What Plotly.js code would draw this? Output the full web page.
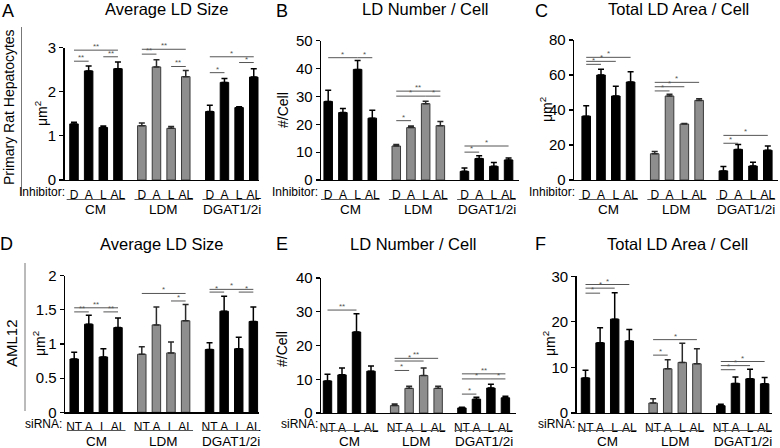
<!DOCTYPE html>
<html>
<head>
<meta charset="utf-8">
<script src="https://cdn.plot.ly/plotly-3.0.1.min.js"></script>
<style>html,body{margin:0;padding:0;background:#fff;}#chart{width:780px;height:448px;}</style>
</head>
<body>
<div id="chart"></div>
<script>
// ---------------- DATA ----------------
const groups = ['CM', 'LDM', 'DGAT1/2i'];
const inhibitorLabels = ['D', 'A', 'L', 'AL'];
const sirnaLabels = ['NT', 'A', 'L', 'AL'];
const panelTitles = ['Average LD Size', 'LD Number / Cell', 'Total LD Area / Cell',
                     'Average LD Size', 'LD Number / Cell', 'Total LD Area / Cell'];
const panelLetters = ['A', 'B', 'C', 'D', 'E', 'F'];
const rowLabels = ['Primary Rat Hepatocytes', 'AML12'];
const yTitles = ['μm<sup>2</sup>', '#/Cell', 'μm<sup>2</sup>', 'μm<sup>2</sup>', '#/Cell', 'μm<sup>2</sup>'];

// values: CM(4), LDM(4), DGAT1/2i(4)
const hepAvgSize     = [1.27, 2.47, 1.19, 2.52,  1.23, 2.56, 1.17, 2.34,  1.55, 2.21, 1.64, 2.33];
const hepAvgSizeErr  = [0.04, 0.11, 0.03, 0.15,  0.06, 0.16, 0.04, 0.14,  0.14, 0.09, 0.02, 0.19];
const hepNumber      = [28.2, 24.2, 39.7, 22.2,  12.2, 18.8, 27.4, 19.5,  3.1, 7.7, 4.9, 7.2];
const hepNumberErr   = [4.0, 1.5, 3.2, 2.8,      0.5, 0.6, 0.9, 1.5,      1.2, 1.0, 1.4, 0.7];
const hepArea        = [36.5, 60.0, 48.0, 56.0,  15.0, 48.0, 32.0, 45.5,  5.2, 17.5, 8.0, 17.0];
const hepAreaErr     = [6.0, 3.3, 5.6, 5.8,      1.3, 1.0, 0.3, 1.0,      2.5, 2.8, 2.2, 2.5];
const amlAvgSize     = [0.78, 1.29, 0.81, 1.24,  0.85, 1.28, 0.87, 1.34,  0.92, 1.48, 0.93, 1.33];
const amlAvgSizeErr  = [0.10, 0.13, 0.12, 0.14,  0.11, 0.26, 0.16, 0.24,  0.10, 0.22, 0.17, 0.21];
const amlNumber      = [9.5, 11.3, 24.0, 12.4,   2.2, 7.3, 11.1, 7.3,     1.5, 4.1, 7.4, 4.5];
const amlNumberErr   = [2.0, 2.0, 5.4, 1.5,      0.5, 0.6, 2.2, 0.6,      0.2, 0.6, 1.1, 0.5];
const amlArea        = [7.7, 15.4, 20.6, 15.8,   2.2, 9.7, 11.1, 10.8,    1.6, 6.5, 7.5, 6.4];
const amlAreaErr     = [1.7, 3.3, 5.8, 2.5,      0.9, 2.0, 4.2, 3.3,      0.3, 1.4, 2.1, 1.4];

// significance brackets: [fromBar, toBar, yValue, label]
const sigA = [[0,1,2.69,'**'],[2,3,2.79,'**'],[0,3,2.94,'**'],
              [4,5,2.85,'**'],[4,7,2.96,'**'],[6,7,2.57,'**'],
              [8,9,2.43,'*'],[8,11,2.79,'*'],[10,11,2.66,'*']];
const sigB = [[0,2,43.9,'*'],[2,3,43.9,'*'],
              [4,5,21.3,'*'],[4,6,30.1,'*'],[6,7,30.1,'*'],[4,7,31.9,'**'],
              [8,9,10.0,'*'],[8,11,12.2,'*']];
const sigC = [[0,1,66.1,'*'],[0,2,67.8,'*'],[0,3,70.1,'*'],
              [4,5,50.9,'*'],[4,6,53.3,'*'],[4,7,55.8,'*'],
              [8,9,21.0,'*'],[8,11,25.5,'*']];
const sigD = [[0,1,1.47,'**'],[2,3,1.47,'**'],[0,3,1.53,'**'],
              [4,7,1.74,'*'],[6,7,1.63,'*'],
              [8,9,1.76,'*'],[8,11,1.80,'*'],[10,11,1.76,'*']];
const sigE = [[0,2,30.5,'**'],
              [4,5,12.6,'*'],[4,6,15.4,'*'],[4,7,16.2,'**'],
              [8,9,5.6,'*'],[8,10,10.1,'*'],[10,11,10.1,'*'],[8,11,11.6,'**']];
const sigF = [[0,1,26.3,'*'],[0,2,27.4,'*'],[0,3,28.2,'*'],
              [4,5,12.7,'*'],[4,7,16.1,'*'],
              [8,9,9.5,'*'],[8,10,10.4,'*'],[8,11,11.3,'*']];

const panelValues = [hepAvgSize, hepNumber, hepArea, amlAvgSize, amlNumber, amlArea];
const panelErrors = [hepAvgSizeErr, hepNumberErr, hepAreaErr, amlAvgSizeErr, amlNumberErr, amlAreaErr];
const panelSig = [sigA, sigB, sigC, sigD, sigE, sigF];

// ---------------- LAYOUT GEOMETRY ----------------
const W = 780, H = 448;
const xPos = [0,1,2,3, 4.63,5.63,6.63,7.63, 9.27,10.27,11.27,12.27];
const geo = [
  {axisPx:64.5, x0:74.0,  s:14.65, rightPx:259, top:47.5,  bottom:180,   ymax:3,  dtick:1},
  {axisPx:321,  x0:328.2, s:14.7,  rightPx:519, top:40.7,  bottom:180,   ymax:50, dtick:10},
  {axisPx:574,  x0:586.2, s:14.8,  rightPx:778, top:40,    bottom:180,   ymax:80, dtick:20},
  {axisPx:65,   x0:74.2,  s:14.6,  rightPx:259, top:275.7, bottom:412.3, ymax:2,  dtick:0.5},
  {axisPx:321,  x0:327.5, s:14.5,  rightPx:516, top:278,   bottom:413,   ymax:40, dtick:10},
  {axisPx:576.5,x0:585.5, s:14.6,  rightPx:772, top:276.3, bottom:413,   ymax:30, dtick:10}
];
const titlePos = [[167,9],[426,9],[678,9],[162,244],[413,244],[677,244]];
const letterPos = [[8,11],[282,11],[541,11],[7,244],[282,244],[540,244]];
const yTitlePos = [[41,114],[283,110],[546,110],[39,344],[282,349],[549,344]];
const prefixPos = [[67,192],[320,192],[577,192],[64,424],[320,424],[577,424]];

const FONT = 'Liberation Sans, Arial, Helvetica, sans-serif';
const py = v => 1 - v / H;
const pxp = v => v / W;

const data = [];
const shapes = [];
const annotations = [];
const layout = {
  width: W, height: H,
  margin: {l:0, r:0, t:0, b:0},
  paper_bgcolor: '#fff', plot_bgcolor: 'rgba(0,0,0,0)',
  showlegend: false,
  font: {family: FONT, color: '#000'},
  bargap: 0
};

for (let p = 0; p < 6; p++) {
  const g = geo[p];
  const n = p + 1;
  const xa = 'x' + (n === 1 ? '' : n);
  const ya = 'y' + (n === 1 ? '' : n);
  const xKey = 'xaxis' + (n === 1 ? '' : n);
  const yKey = 'yaxis' + (n === 1 ? '' : n);
  const labels = p < 3 ? inhibitorLabels : sirnaLabels;
  const ticktext = [].concat(labels, labels, labels);

  layout[xKey] = {
    domain: [pxp(g.axisPx), pxp(g.rightPx)],
    range: [(g.axisPx - g.x0) / g.s, (g.rightPx - g.x0) / g.s],
    anchor: ya,
    showline: true, linecolor: '#000', linewidth: 1.3,
    showgrid: false, zeroline: false,
    ticks: '', tickvals: xPos, ticktext: ticktext, tickangle: 0, ticklabelstandoff: 3,
    tickfont: {size: 12, family: FONT, color: '#000'},
    fixedrange: true
  };
  layout[yKey] = {
    domain: [py(g.bottom), py(g.top)],
    range: [0, g.ymax],
    anchor: xa,
    showline: true, linecolor: '#000', linewidth: 1.3,
    showgrid: false, zeroline: false,
    ticks: 'outside', ticklen: 4, tickwidth: 1.2, tickcolor: '#000',
    dtick: g.dtick, tick0: 0,
    tickfont: {size: 15, family: FONT, color: '#000'},
    fixedrange: true
  };

  const vals = panelValues[p], errs = panelErrors[p];
  for (let grp = 0; grp < 3; grp++) {
    const idx = [grp*4, grp*4+1, grp*4+2, grp*4+3];
    const gray = grp === 1;
    data.push({
      type: 'bar',
      x: idx.map(i => xPos[i]),
      y: idx.map(i => vals[i]),
      width: 0.58,
      xaxis: xa, yaxis: ya,
      marker: {color: gray ? '#8e8e8e' : '#000', line: {color: gray ? '#3a3a3a' : '#000', width: 1}},
      error_y: {type: 'data', array: idx.map(i => errs[i]), arrayminus: idx.map(() => 0),
                symmetric: false, color: gray ? '#2a2a2a' : '#000', thickness: 1.5, width: 3},
      hoverinfo: 'skip'
    });
    // group underline + label
    const ulY = p < 3 ? 199.5 : 430.5;
    const glY = p < 3 ? 209 : 441;
    shapes.push({type: 'line', xref: xa, yref: 'paper',
      x0: xPos[grp*4] - 0.5, x1: xPos[grp*4+3] + 0.5, y0: py(ulY), y1: py(ulY),
      line: {color: '#555', width: 1}});
    annotations.push({xref: xa, yref: 'paper', x: (xPos[grp*4] + xPos[grp*4+3]) / 2, y: py(glY),
      text: groups[grp], showarrow: false, xanchor: 'center', yanchor: 'middle',
      font: {size: 13.5, family: FONT, color: '#000'}});
  }
  // prefix label (paper coordinates, right-aligned)
  annotations.push({xref: 'paper', yref: 'paper', x: pxp(prefixPos[p][0]), y: py(prefixPos[p][1]),
    text: p < 3 ? 'Inhibitor:' : 'siRNA:', showarrow: false, xanchor: 'right', yanchor: 'middle',
    font: {size: 12, family: FONT, color: '#000'}});

  // significance brackets
  panelSig[p].forEach(b => {
    shapes.push({type: 'line', xref: xa, yref: ya, x0: xPos[b[0]], x1: xPos[b[1]], y0: b[2], y1: b[2],
      line: {color: '#555', width: 1}});
    annotations.push({xref: xa, yref: ya, x: (xPos[b[0]] + xPos[b[1]]) / 2, y: b[2],
      text: b[3], showarrow: false, xanchor: 'center', yanchor: 'bottom', yshift: -3,
      font: {size: 8, family: FONT, color: '#555'}});
  });

  // titles, letters, y-titles
  annotations.push({xref: 'paper', yref: 'paper', x: pxp(titlePos[p][0]), y: py(titlePos[p][1]),
    text: panelTitles[p], showarrow: false, xanchor: 'center', yanchor: 'middle',
    font: {size: 16.5, family: FONT, color: '#000'}});
  annotations.push({xref: 'paper', yref: 'paper', x: pxp(letterPos[p][0]), y: py(letterPos[p][1]),
    text: panelLetters[p], showarrow: false, xanchor: 'center', yanchor: 'middle',
    font: {size: 18, family: FONT, color: '#000'}});
  annotations.push({xref: 'paper', yref: 'paper', x: pxp(yTitlePos[p][0]), y: py(yTitlePos[p][1]),
    text: yTitles[p], showarrow: false, textangle: -90, xanchor: 'center', yanchor: 'middle',
    font: {size: 14, family: FONT, color: '#000'}});
}

// row labels with side lines
annotations.push({xref: 'paper', yref: 'paper', x: pxp(9), y: py(107), text: rowLabels[0],
  showarrow: false, textangle: -90, xanchor: 'center', yanchor: 'middle',
  font: {size: 14, family: FONT, color: '#000'}});
annotations.push({xref: 'paper', yref: 'paper', x: pxp(11), y: py(343), text: rowLabels[1],
  showarrow: false, textangle: -90, xanchor: 'center', yanchor: 'middle',
  font: {size: 15, family: FONT, color: '#000'}});
shapes.push({type: 'line', xref: 'paper', yref: 'paper', x0: pxp(21.5), x1: pxp(21.5), y0: py(27), y1: py(196),
  line: {color: '#777', width: 1}});
shapes.push({type: 'line', xref: 'paper', yref: 'paper', x0: pxp(25), x1: pxp(25), y0: py(263), y1: py(411),
  line: {color: '#777', width: 1}});

layout.shapes = shapes;
layout.annotations = annotations;

Plotly.newPlot('chart', data, layout, {staticPlot: true, displayModeBar: false});
</script>
</body>
</html>
